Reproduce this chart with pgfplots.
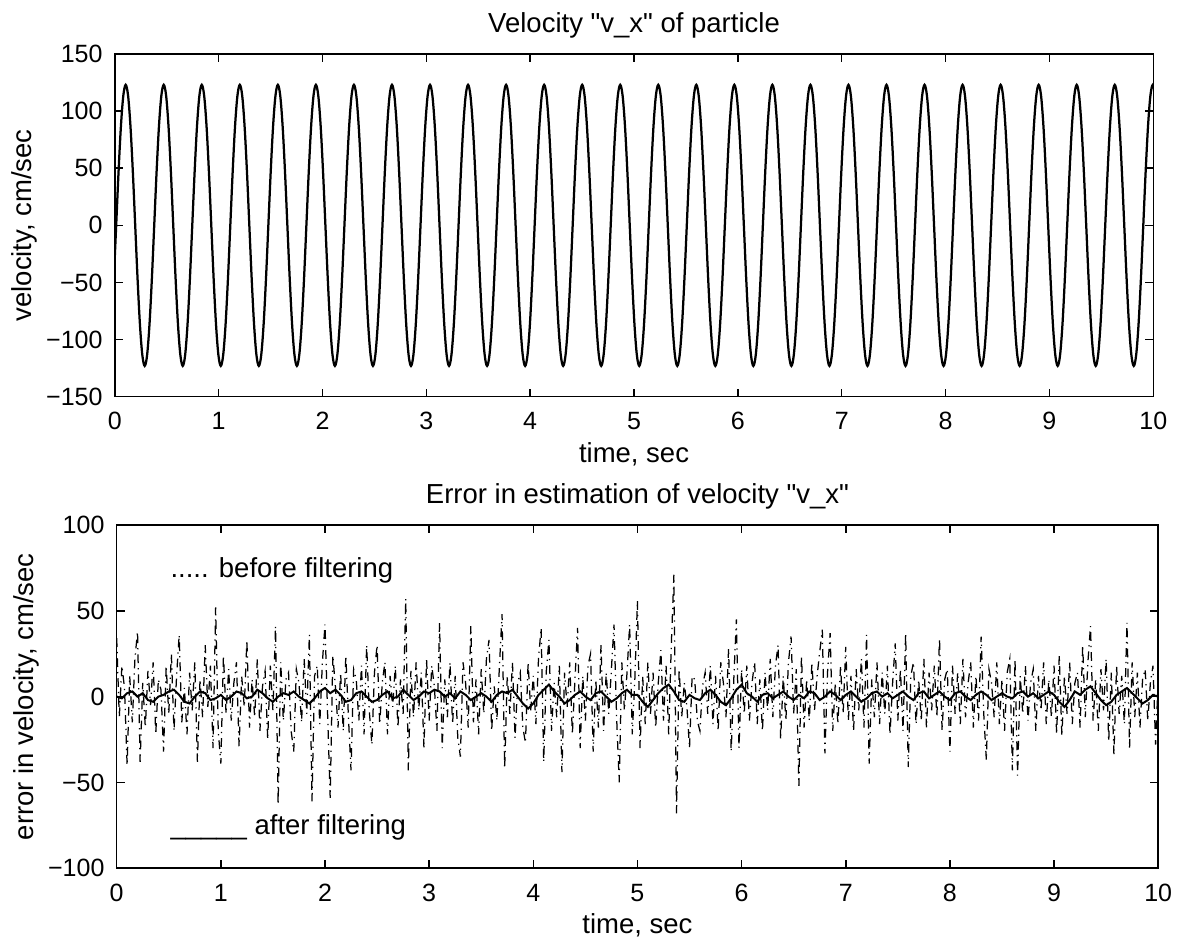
\documentclass[border=0pt]{standalone}
\usepackage{fontspec}
\setmainfont{Liberation Sans}
\usepackage{pgfplots}
\pgfplotsset{compat=1.18}
\pgfplotsset{
 myax/.style={
  scale only axis,
  xmin=0,xmax=10,
  xtick={0,1,2,3,4,5,6,7,8,9,10},
  tick align=inside,
  major tick length=3.2pt,
  axis line style={line width=0.6pt},
  every tick/.style={black, line width=0.6pt},
  tick label style={font=\fontsize{10}{12}\selectfont},
  label style={font=\fontsize{11}{13}\selectfont},
  title style={font=\fontsize{11}{13}\selectfont, at={(axis description cs:0.5,1)}, anchor=base, yshift=2.4pt},
  xticklabel style={anchor=base, yshift=-13.3pt},
  yticklabel style={anchor=east, inner sep=0pt, xshift=-4.7pt},
  xlabel style={at={(axis description cs:0.5,0)}, anchor=base, yshift=-26.2pt},
  ylabel style={at={(axis description cs:-0.08,0.5)}, anchor=base},
  /pgf/number format/assume math mode=true,
 }
}
\begin{document}
\begin{tikzpicture}
\useasboundingbox (-45.92pt,21.6pt) rectangle (426.08pt,-354.8pt);
% ---------------- top axis ----------------
\begin{axis}[myax,
  at={(0pt,0pt)}, anchor=north west,
  width=415.4pt, height=137.1pt,
  ymin=-150, ymax=150,
  ytick={-150,-100,-50,0,50,100,150},
  yticklabels={−150,−100,−50,0,50,100,150},
  title={Velocity \textquotedbl v\_x\textquotedbl{} of particle},
  xlabel={time, sec},
  ylabel={velocity, cm/sec},
]
\addplot[black, line width=0.9pt, smooth, tension=0.55] table[row sep=\\, header=false, y index=0, x expr=\coordindex*0.022894-0.0095] {
-47.1\\
0\\47.1\\87\\113.6\\123\\113.6\\87\\47.1\\0\\-47.1\\-87\\-113.6\\-123\\-113.6\\-87\\-47.1\\
0\\47.1\\87\\113.6\\123\\113.6\\87\\47.1\\0\\-47.1\\-87\\-113.6\\-123\\-113.6\\-87\\-47.1\\
0\\47.1\\87\\113.6\\123\\113.6\\87\\47.1\\0\\-47.1\\-87\\-113.6\\-123\\-113.6\\-87\\-47.1\\
0\\47.1\\87\\113.6\\123\\113.6\\87\\47.1\\0\\-47.1\\-87\\-113.6\\-123\\-113.6\\-87\\-47.1\\
0\\47.1\\87\\113.6\\123\\113.6\\87\\47.1\\0\\-47.1\\-87\\-113.6\\-123\\-113.6\\-87\\-47.1\\
0\\47.1\\87\\113.6\\123\\113.6\\87\\47.1\\0\\-47.1\\-87\\-113.6\\-123\\-113.6\\-87\\-47.1\\
0\\47.1\\87\\113.6\\123\\113.6\\87\\47.1\\0\\-47.1\\-87\\-113.6\\-123\\-113.6\\-87\\-47.1\\
0\\47.1\\87\\113.6\\123\\113.6\\87\\47.1\\0\\-47.1\\-87\\-113.6\\-123\\-113.6\\-87\\-47.1\\
0\\47.1\\87\\113.6\\123\\113.6\\87\\47.1\\0\\-47.1\\-87\\-113.6\\-123\\-113.6\\-87\\-47.1\\
0\\47.1\\87\\113.6\\123\\113.6\\87\\47.1\\0\\-47.1\\-87\\-113.6\\-123\\-113.6\\-87\\-47.1\\
0\\47.1\\87\\113.6\\123\\113.6\\87\\47.1\\0\\-47.1\\-87\\-113.6\\-123\\-113.6\\-87\\-47.1\\
0\\47.1\\87\\113.6\\123\\113.6\\87\\47.1\\0\\-47.1\\-87\\-113.6\\-123\\-113.6\\-87\\-47.1\\
0\\47.1\\87\\113.6\\123\\113.6\\87\\47.1\\0\\-47.1\\-87\\-113.6\\-123\\-113.6\\-87\\-47.1\\
0\\47.1\\87\\113.6\\123\\113.6\\87\\47.1\\0\\-47.1\\-87\\-113.6\\-123\\-113.6\\-87\\-47.1\\
0\\47.1\\87\\113.6\\123\\113.6\\87\\47.1\\0\\-47.1\\-87\\-113.6\\-123\\-113.6\\-87\\-47.1\\
0\\47.1\\87\\113.6\\123\\113.6\\87\\47.1\\0\\-47.1\\-87\\-113.6\\-123\\-113.6\\-87\\-47.1\\
0\\47.1\\87\\113.6\\123\\113.6\\87\\47.1\\0\\-47.1\\-87\\-113.6\\-123\\-113.6\\-87\\-47.1\\
0\\47.1\\87\\113.6\\123\\113.6\\87\\47.1\\0\\-47.1\\-87\\-113.6\\-123\\-113.6\\-87\\-47.1\\
0\\47.1\\87\\113.6\\123\\113.6\\87\\47.1\\0\\-47.1\\-87\\-113.6\\-123\\-113.6\\-87\\-47.1\\
0\\47.1\\87\\113.6\\123\\113.6\\87\\47.1\\0\\-47.1\\-87\\-113.6\\-123\\-113.6\\-87\\-47.1\\
0\\47.1\\87\\113.6\\123\\113.6\\87\\47.1\\0\\-47.1\\-87\\-113.6\\-123\\-113.6\\-87\\-47.1\\
0\\47.1\\87\\113.6\\123\\113.6\\87\\47.1\\0\\-47.1\\-87\\-113.6\\-123\\-113.6\\-87\\-47.1\\
0\\47.1\\87\\113.6\\123\\113.6\\87\\47.1\\0\\-47.1\\-87\\-113.6\\-123\\-113.6\\-87\\-47.1\\
0\\47.1\\87\\113.6\\123\\113.6\\87\\47.1\\0\\-47.1\\-87\\-113.6\\-123\\-113.6\\-87\\-47.1\\
0\\47.1\\87\\113.6\\123\\113.6\\87\\47.1\\0\\-47.1\\-87\\-113.6\\-123\\-113.6\\-87\\-47.1\\
0\\47.1\\87\\113.6\\123\\113.6\\87\\47.1\\0\\-47.1\\-87\\-113.6\\-123\\-113.6\\-87\\-47.1\\
0\\47.1\\87\\113.6\\123\\113.6\\87\\47.1\\0\\-47.1\\-87\\-113.6\\-123\\-113.6\\-87\\-47.1\\
0\\47.1\\87\\113.6\\123\\113.6\\87\\
};
\end{axis}
% ---------------- bottom axis ----------------
\begin{axis}[myax,
  at={(0.76pt,-188.4pt)}, anchor=north west,
  width=416.6pt, height=137.3pt,
  ymin=-100, ymax=100,
  ytick={-100,-50,0,50,100},
  yticklabels={−100,−50,0,50,100},
  title={Error in estimation of velocity \textquotedbl v\_x\textquotedbl},
  xlabel={time, sec},
  ylabel={error in velocity, cm/sec},
]
% before filtering (dash-dot)
\addplot[black, line width=0.5pt, dash pattern=on 3.5pt off 2pt on 0.5pt off 2pt] table[row sep=\\, header=false, y index=0, x expr=\coordindex*0.025] {
34\\-12\\18\\5\\-40\\12\\-15\\22\\38\\-38\\8\\-18\\15\\-5\\20\\-22\\10\\4\\-32\\18\\-10\\25\\-20\\12\\36\\-15\\5\\-22\\14\\-8\\20\\-38\\10\\-12\\30\\-6\\18\\-30\\52\\-20\\
-39\\24\\-10\\16\\-14\\8\\20\\-29\\12\\-6\\33\\-18\\10\\-12\\22\\-20\\6\\15\\-25\\18\\-8\\41\\-63\\20\\-14\\10\\14\\-20\\-32\\16\\8\\-15\\22\\-10\\36\\-61\\12\\18\\-16\\20\\
42\\-10\\-59\\24\\6\\-18\\14\\-20\\24\\-12\\-43\\16\\10\\-14\\18\\-22\\30\\-8\\-28\\14\\30\\-16\\8\\20\\-22\\12\\-6\\18\\-18\\10\\-10\\57\\-43\\15\\-12\\20\\-8\\14\\-30\\22\\
-14\\18\\6\\-20\\43\\-30\\10\\-12\\20\\-16\\12\\-24\\-35\\20\\8\\-18\\41\\-15\\10\\-22\\16\\-10\\22\\33\\-20\\6\\-14\\18\\48\\-42\\12\\-10\\20\\-24\\8\\14\\-18\\-27\\20\\-8\\
12\\-16\\22\\40\\-38\\15\\33\\-20\\8\\-12\\18\\-44\\14\\-6\\20\\-22\\10\\40\\-30\\12\\-14\\18\\25\\-32\\10\\-18\\30\\-20\\14\\-10\\16\\42\\-12\\-50\\20\\-8\\14\\42\\-22\\10\\
56\\-30\\12\\-16\\20\\-10\\14\\-18\\8\\27\\-14\\18\\-22\\30\\71\\-68\\16\\-12\\8\\-6\\-30\\12\\10\\-14\\-20\\6\\14\\-10\\18\\-16\\12\\-20\\20\\8\\-12\\28\\-32\\10\\45\\-30\\
16\\-10\\18\\-14\\8\\20\\-16\\10\\-20\\14\\-8\\22\\-12\\18\\30\\-25\\12\\-14\\20\\35\\-10\\16\\-52\\24\\-18\\10\\-14\\20\\-8\\12\\26\\39\\-33\\14\\37\\-20\\8\\-16\\18\\-10\\
29\\-14\\12\\-20\\16\\-8\\22\\-18\\36\\-39\\10\\-12\\20\\-16\\14\\-10\\18\\-22\\8\\31\\-14\\16\\-20\\37\\-41\\12\\20\\-16\\10\\-14\\22\\-18\\14\\-8\\18\\-12\\34\\-20\\10\\16\\
-32\\18\\-10\\14\\-16\\22\\-12\\8\\20\\-18\\12\\-14\\35\\-10\\-37\\16\\8\\-12\\20\\-16\\10\\-20\\14\\22\\-43\\22\\-46\\12\\-10\\18\\-14\\8\\16\\-20\\12\\-8\\20\\-16\\10\\-12\\
18\\-22\\24\\-23\\12\\-10\\20\\-16\\8\\14\\-18\\30\\-12\\20\\41\\-14\\10\\-20\\16\\-8\\22\\-26\\14\\-34\\18\\-10\\12\\-16\\43\\-30\\20\\-12\\14\\-18\\10\\16\\-14\\8\\18\\-28\\10\\
};
% after filtering (solid)
\addplot[black, line width=0.8pt] table[row sep=\\, header=false, y index=0, x expr=\coordindex*0.05] {
0\\-1\\2\\3\\0\\2\\-2\\-3\\0\\1\\3\\4\\1\\-3\\-4\\0\\3\\2\\-2\\-1\\1\\
-2\\0\\3\\2\\-1\\0\\4\\2\\-1\\-3\\0\\2\\1\\3\\0\\-2\\-4\\-1\\3\\5\\
2\\4\\1\\-3\\-2\\2\\3\\0\\-3\\-2\\1\\3\\-1\\0\\4\\1\\-2\\0\\3\\2\\
4\\3\\0\\2\\-1\\3\\1\\-2\\0\\2\\0\\-3\\1\\3\\2\\4\\0\\-4\\-7\\-4\\
1\\4\\7\\3\\0\\-4\\-2\\1\\3\\0\\-2\\2\\3\\0\\-3\\-1\\2\\4\\1\\1\\
-3\\-6\\-2\\2\\5\\7\\3\\-2\\-3\\1\\-1\\-2\\2\\4\\1\\-3\\-5\\-1\\4\\7\\
2\\0\\-3\\1\\2\\-1\\1\\3\\0\\-2\\1\\-1\\3\\2\\-2\\0\\3\\1\\-2\\1\\
3\\0\\-3\\-1\\2\\3\\0\\2\\-1\\1\\3\\0\\-2\\2\\3\\-1\\1\\3\\0\\-2\\
2\\3\\0\\-2\\1\\3\\1\\-2\\0\\2\\0\\-1\\2\\3\\0\\2\\-1\\1\\3\\1\\
-3\\-6\\-2\\3\\1\\4\\6\\2\\-2\\-5\\-3\\1\\3\\5\\2\\-1\\-4\\-2\\1\\0\\
};
\node[anchor=base west, font=\fontsize{11}{13}\selectfont, inner sep=0pt] at (axis cs:0.512,69.3) {..... before filtering};
\node[anchor=base west, font=\fontsize{11}{13}\selectfont, inner sep=0pt] at (axis cs:0.512,-80.6) {\_\_\_\_\_ after filtering};
\end{axis}
\end{tikzpicture}
\end{document}
